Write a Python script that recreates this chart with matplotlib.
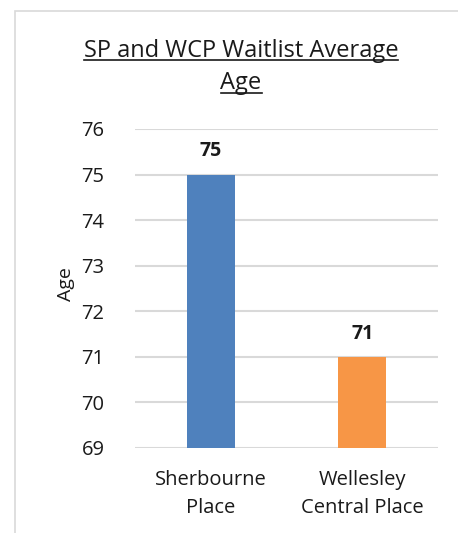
import matplotlib
matplotlib.use("Agg")
import matplotlib.pyplot as plt
from matplotlib.patches import Rectangle

categories = ["Sherbourne\nPlace", "Wellesley\nCentral Place"]
values = [75, 71]
colors = ["#4F81BD", "#F79646"]
yticks = [69, 70, 71, 72, 73, 74, 75, 76]

plt.rcParams['font.family'] = ['Open Sans', 'DejaVu Sans']

W, H = 458, 533
fig = plt.figure(figsize=(W/100, H/100), dpi=100)
fig.patch.set_facecolor("white")

# chart border (cropped at right/bottom)
fig.add_artist(Rectangle((15/W, -0.05), 1.0, 1 - 11/H + 0.05, transform=fig.transFigure,
                         fill=False, edgecolor="#D9D9D9", linewidth=1.2))

left, right = 135/W, 438/W
bottom, top = 1 - 448/H, 1 - 129/H
ax = fig.add_axes([left, bottom, right - left, top - bottom])

x = [0, 1]
ax.bar(x, [v - 69 for v in values], bottom=69, width=0.317, color=colors, zorder=3)
ax.set_xlim(-0.5, 1.5)
ax.set_ylim(69, 76)
ax.set_yticks(yticks)
ax.set_yticklabels([str(t) for t in yticks], fontsize=14.5, color="#1a1a1a")
ax.set_xticks(x)
ax.set_xticklabels(categories, fontsize=14.5, color="#1a1a1a", linespacing=1.5)
ax.tick_params(axis='both', length=0)
ax.tick_params(axis='y', pad=22)
ax.tick_params(axis='x', pad=16)
ax.grid(axis='y', color="#D9D9D9", linewidth=1.5, zorder=0)
for s in ax.spines.values():
    s.set_visible(False)

for xi, v in zip(x, values):
    ax.annotate(str(v), (xi, v), xytext=(0, 13.2), textcoords="offset points",
                ha="center", va="baseline", fontsize=14, fontweight="bold", color="#1a1a1a")

ax.set_ylabel("Age", fontsize=14, color="#1a1a1a")
ax.yaxis.set_label_coords((75 - 135) / 303, (448 - 284) / 319)

fig.text(241/W, 1 - 57/H, "SP and WCP Waitlist Average", ha="center", va="baseline",
         fontsize=17, color="#1a1a1a")
fig.text(241/W, 1 - 89/H, "Age", ha="center", va="baseline", fontsize=17, color="#1a1a1a")
# underlines
fig.add_artist(plt.Line2D([84/W, 398/W], [1 - 59.5/H, 1 - 59.5/H], color="#1a1a1a", linewidth=1.2))
fig.add_artist(plt.Line2D([221/W, 262/W], [1 - 93/H, 1 - 93/H], color="#1a1a1a", linewidth=1.2))

fig.savefig("out.png", dpi=100, facecolor="white")
